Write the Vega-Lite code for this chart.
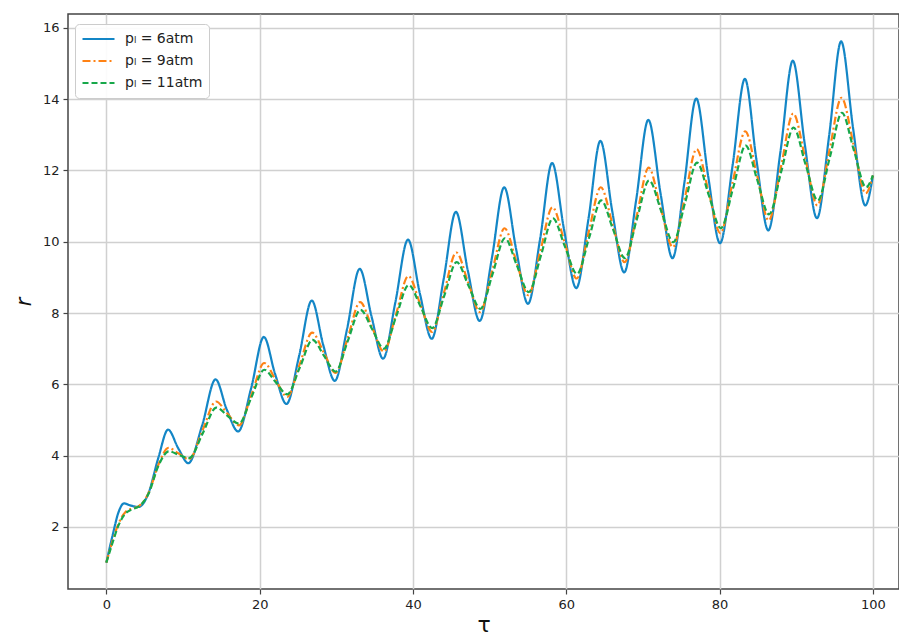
{
  "$schema": "https://vega.github.io/schema/vega-lite/v6.json",
  "autosize": {"type": "none"},
  "padding": {"left": 68, "top": 14, "right": 0, "bottom": 50},
  "width": 831,
  "height": 575,
  "background": "white",
  "config": {
    "font": "DejaVu Sans",
    "view": {"stroke": "#444444", "strokeWidth": 1.5},
    "axis": {
      "gridColor": "#d0d0d0",
      "gridWidth": 1.5,
      "domain": false,
      "tickColor": "#444444",
      "tickWidth": 1.2,
      "tickSize": 5,
      "labelFont": "DejaVu Sans",
      "labelFontSize": 13,
      "labelColor": "#222222",
      "labelPadding": 4,
      "titleFont": "DejaVu Sans",
      "titleFontWeight": "normal",
      "titleColor": "#111111"
    },
    "legend": {
      "orient": "none",
      "legendX": 7,
      "legendY": 10,
      "fillColor": "rgba(255,255,255,0.9)",
      "strokeColor": "#cccccc",
      "cornerRadius": 4,
      "padding": 6,
      "labelFont": "DejaVu Sans",
      "labelFontSize": 14,
      "labelColor": "#222222",
      "labelOffset": 9,
      "symbolType": "stroke",
      "symbolSize": 1024,
      "symbolStrokeWidth": 2.2,
      "clipHeight": 18,
      "rowPadding": 4
    }
  },
  "data": {
    "values": [
      {"s": "6atm", "t": 0, "r": 1.0},
      {"s": "6atm", "t": 0.8, "r": 1.75},
      {"s": "6atm", "t": 1.6, "r": 2.42},
      {"s": "6atm", "t": 2.3, "r": 2.66},
      {"s": "6atm", "t": 3.2, "r": 2.6},
      {"s": "6atm", "t": 4.2, "r": 2.56},
      {"s": "6atm", "t": 5.5, "r": 2.95},
      {"s": "6atm", "t": 6.8, "r": 3.95},
      {"s": "6atm", "t": 8.05, "r": 4.73},
      {"s": "6atm", "t": 9.4, "r": 4.2},
      {"s": "6atm", "t": 10.7, "r": 3.79},
      {"s": "6atm", "t": 12.5, "r": 4.85},
      {"s": "6atm", "t": 14.25, "r": 6.14},
      {"s": "6atm", "t": 15.7, "r": 5.3},
      {"s": "6atm", "t": 17.2, "r": 4.68},
      {"s": "6atm", "t": 18.9, "r": 5.9},
      {"s": "6atm", "t": 20.55, "r": 7.33},
      {"s": "6atm", "t": 22.0, "r": 6.3},
      {"s": "6atm", "t": 23.5, "r": 5.45},
      {"s": "6atm", "t": 25.15, "r": 6.8},
      {"s": "6atm", "t": 26.8, "r": 8.35},
      {"s": "6atm", "t": 28.3, "r": 7.1},
      {"s": "6atm", "t": 29.8, "r": 6.1},
      {"s": "6atm", "t": 31.4, "r": 7.55},
      {"s": "6atm", "t": 33.05, "r": 9.24},
      {"s": "6atm", "t": 34.6, "r": 7.9},
      {"s": "6atm", "t": 36.1, "r": 6.72},
      {"s": "6atm", "t": 37.7, "r": 8.3},
      {"s": "6atm", "t": 39.35, "r": 10.06},
      {"s": "6atm", "t": 40.9, "r": 8.55},
      {"s": "6atm", "t": 42.45, "r": 7.28},
      {"s": "6atm", "t": 44.0, "r": 8.95},
      {"s": "6atm", "t": 45.6, "r": 10.84},
      {"s": "6atm", "t": 47.15, "r": 9.2},
      {"s": "6atm", "t": 48.7, "r": 7.78},
      {"s": "6atm", "t": 50.3, "r": 9.55},
      {"s": "6atm", "t": 51.9, "r": 11.53},
      {"s": "6atm", "t": 53.45, "r": 9.8},
      {"s": "6atm", "t": 55.0, "r": 8.26},
      {"s": "6atm", "t": 56.6, "r": 10.1},
      {"s": "6atm", "t": 58.15, "r": 12.21},
      {"s": "6atm", "t": 59.7, "r": 10.35},
      {"s": "6atm", "t": 61.3, "r": 8.7},
      {"s": "6atm", "t": 62.9, "r": 10.65},
      {"s": "6atm", "t": 64.45, "r": 12.83},
      {"s": "6atm", "t": 66.0, "r": 10.85},
      {"s": "6atm", "t": 67.55, "r": 9.14},
      {"s": "6atm", "t": 69.1, "r": 11.15},
      {"s": "6atm", "t": 70.7, "r": 13.42},
      {"s": "6atm", "t": 72.3, "r": 11.35},
      {"s": "6atm", "t": 73.85, "r": 9.54},
      {"s": "6atm", "t": 75.4, "r": 11.65},
      {"s": "6atm", "t": 76.95, "r": 14.02},
      {"s": "6atm", "t": 78.5, "r": 11.85},
      {"s": "6atm", "t": 80.05, "r": 9.96},
      {"s": "6atm", "t": 81.7, "r": 12.15},
      {"s": "6atm", "t": 83.3, "r": 14.57},
      {"s": "6atm", "t": 84.8, "r": 12.3},
      {"s": "6atm", "t": 86.35, "r": 10.32},
      {"s": "6atm", "t": 87.95, "r": 12.55},
      {"s": "6atm", "t": 89.55, "r": 15.08},
      {"s": "6atm", "t": 91.1, "r": 12.75},
      {"s": "6atm", "t": 92.7, "r": 10.66},
      {"s": "6atm", "t": 94.3, "r": 13.0},
      {"s": "6atm", "t": 95.85, "r": 15.62},
      {"s": "6atm", "t": 97.4, "r": 13.2},
      {"s": "6atm", "t": 99.0, "r": 11.02},
      {"s": "6atm", "t": 100, "r": 11.86},

      {"s": "9atm", "t": 0, "r": 1.0},
      {"s": "9atm", "t": 0.8, "r": 1.6},
      {"s": "9atm", "t": 1.6, "r": 2.1},
      {"s": "9atm", "t": 2.5, "r": 2.42},
      {"s": "9atm", "t": 3.4, "r": 2.52},
      {"s": "9atm", "t": 4.2, "r": 2.58},
      {"s": "9atm", "t": 5.5, "r": 2.95},
      {"s": "9atm", "t": 6.8, "r": 3.75},
      {"s": "9atm", "t": 8.1, "r": 4.22},
      {"s": "9atm", "t": 9.45, "r": 4.06},
      {"s": "9atm", "t": 10.8, "r": 3.9},
      {"s": "9atm", "t": 12.55, "r": 4.71},
      {"s": "9atm", "t": 14.3, "r": 5.52},
      {"s": "9atm", "t": 15.8, "r": 5.18},
      {"s": "9atm", "t": 17.3, "r": 4.85},
      {"s": "9atm", "t": 18.95, "r": 5.72},
      {"s": "9atm", "t": 20.6, "r": 6.6},
      {"s": "9atm", "t": 22.1, "r": 6.12},
      {"s": "9atm", "t": 23.6, "r": 5.65},
      {"s": "9atm", "t": 25.2, "r": 6.55},
      {"s": "9atm", "t": 26.85, "r": 7.45},
      {"s": "9atm", "t": 28.4, "r": 6.88},
      {"s": "9atm", "t": 29.9, "r": 6.32},
      {"s": "9atm", "t": 31.5, "r": 7.31},
      {"s": "9atm", "t": 33.1, "r": 8.31},
      {"s": "9atm", "t": 34.65, "r": 7.61},
      {"s": "9atm", "t": 36.2, "r": 6.92},
      {"s": "9atm", "t": 37.8, "r": 7.98},
      {"s": "9atm", "t": 39.4, "r": 9.04},
      {"s": "9atm", "t": 40.95, "r": 8.25},
      {"s": "9atm", "t": 42.5, "r": 7.47},
      {"s": "9atm", "t": 44.05, "r": 8.58},
      {"s": "9atm", "t": 45.65, "r": 9.7},
      {"s": "9atm", "t": 47.2, "r": 8.86},
      {"s": "9atm", "t": 48.75, "r": 8.03},
      {"s": "9atm", "t": 50.35, "r": 9.2},
      {"s": "9atm", "t": 51.95, "r": 10.38},
      {"s": "9atm", "t": 53.5, "r": 9.44},
      {"s": "9atm", "t": 55.05, "r": 8.5},
      {"s": "9atm", "t": 56.6, "r": 9.73},
      {"s": "9atm", "t": 58.2, "r": 10.97},
      {"s": "9atm", "t": 59.8, "r": 9.97},
      {"s": "9atm", "t": 61.35, "r": 8.97},
      {"s": "9atm", "t": 62.9, "r": 10.25},
      {"s": "9atm", "t": 64.5, "r": 11.53},
      {"s": "9atm", "t": 66.05, "r": 10.48},
      {"s": "9atm", "t": 67.6, "r": 9.43},
      {"s": "9atm", "t": 69.2, "r": 10.75},
      {"s": "9atm", "t": 70.75, "r": 12.08},
      {"s": "9atm", "t": 72.3, "r": 10.96},
      {"s": "9atm", "t": 73.9, "r": 9.85},
      {"s": "9atm", "t": 75.45, "r": 11.22},
      {"s": "9atm", "t": 77.0, "r": 12.6},
      {"s": "9atm", "t": 78.55, "r": 11.42},
      {"s": "9atm", "t": 80.1, "r": 10.24},
      {"s": "9atm", "t": 81.7, "r": 11.67},
      {"s": "9atm", "t": 83.35, "r": 13.1},
      {"s": "9atm", "t": 84.9, "r": 11.85},
      {"s": "9atm", "t": 86.4, "r": 10.6},
      {"s": "9atm", "t": 88.0, "r": 12.1},
      {"s": "9atm", "t": 89.6, "r": 13.6},
      {"s": "9atm", "t": 91.2, "r": 12.31},
      {"s": "9atm", "t": 92.75, "r": 11.02},
      {"s": "9atm", "t": 94.3, "r": 12.53},
      {"s": "9atm", "t": 95.9, "r": 14.04},
      {"s": "9atm", "t": 97.5, "r": 12.7},
      {"s": "9atm", "t": 99.05, "r": 11.36},
      {"s": "9atm", "t": 100, "r": 11.86},

      {"s": "11atm", "t": 0, "r": 1.0},
      {"s": "11atm", "t": 0.8, "r": 1.55},
      {"s": "11atm", "t": 1.6, "r": 2.05},
      {"s": "11atm", "t": 2.5, "r": 2.38},
      {"s": "11atm", "t": 3.4, "r": 2.5},
      {"s": "11atm", "t": 4.2, "r": 2.57},
      {"s": "11atm", "t": 5.5, "r": 2.93},
      {"s": "11atm", "t": 6.8, "r": 3.72},
      {"s": "11atm", "t": 8.15, "r": 4.12},
      {"s": "11atm", "t": 9.5, "r": 4.02},
      {"s": "11atm", "t": 10.8, "r": 3.93},
      {"s": "11atm", "t": 12.6, "r": 4.64},
      {"s": "11atm", "t": 14.35, "r": 5.35},
      {"s": "11atm", "t": 15.8, "r": 5.12},
      {"s": "11atm", "t": 17.3, "r": 4.9},
      {"s": "11atm", "t": 18.95, "r": 5.65},
      {"s": "11atm", "t": 20.6, "r": 6.41},
      {"s": "11atm", "t": 22.1, "r": 6.06},
      {"s": "11atm", "t": 23.6, "r": 5.72},
      {"s": "11atm", "t": 25.25, "r": 6.48},
      {"s": "11atm", "t": 26.9, "r": 7.25},
      {"s": "11atm", "t": 28.4, "r": 6.8},
      {"s": "11atm", "t": 29.9, "r": 6.36},
      {"s": "11atm", "t": 31.5, "r": 7.22},
      {"s": "11atm", "t": 33.15, "r": 8.09},
      {"s": "11atm", "t": 34.7, "r": 7.54},
      {"s": "11atm", "t": 36.2, "r": 7.0},
      {"s": "11atm", "t": 37.8, "r": 7.9},
      {"s": "11atm", "t": 39.45, "r": 8.79},
      {"s": "11atm", "t": 41.0, "r": 8.18},
      {"s": "11atm", "t": 42.5, "r": 7.58},
      {"s": "11atm", "t": 44.1, "r": 8.5},
      {"s": "11atm", "t": 45.7, "r": 9.43},
      {"s": "11atm", "t": 47.25, "r": 8.77},
      {"s": "11atm", "t": 48.8, "r": 8.12},
      {"s": "11atm", "t": 50.4, "r": 9.11},
      {"s": "11atm", "t": 52.0, "r": 10.1},
      {"s": "11atm", "t": 53.55, "r": 9.34},
      {"s": "11atm", "t": 55.1, "r": 8.59},
      {"s": "11atm", "t": 56.7, "r": 9.62},
      {"s": "11atm", "t": 58.25, "r": 10.66},
      {"s": "11atm", "t": 59.8, "r": 9.88},
      {"s": "11atm", "t": 61.4, "r": 9.1},
      {"s": "11atm", "t": 63.0, "r": 10.13},
      {"s": "11atm", "t": 64.55, "r": 11.16},
      {"s": "11atm", "t": 66.1, "r": 10.35},
      {"s": "11atm", "t": 67.65, "r": 9.54},
      {"s": "11atm", "t": 69.2, "r": 10.63},
      {"s": "11atm", "t": 70.8, "r": 11.72},
      {"s": "11atm", "t": 72.4, "r": 10.85},
      {"s": "11atm", "t": 73.95, "r": 9.99},
      {"s": "11atm", "t": 75.5, "r": 11.1},
      {"s": "11atm", "t": 77.05, "r": 12.22},
      {"s": "11atm", "t": 78.6, "r": 11.3},
      {"s": "11atm", "t": 80.15, "r": 10.38},
      {"s": "11atm", "t": 81.8, "r": 11.54},
      {"s": "11atm", "t": 83.4, "r": 12.7},
      {"s": "11atm", "t": 84.9, "r": 11.74},
      {"s": "11atm", "t": 86.45, "r": 10.77},
      {"s": "11atm", "t": 88.05, "r": 11.98},
      {"s": "11atm", "t": 89.65, "r": 13.2},
      {"s": "11atm", "t": 91.2, "r": 12.18},
      {"s": "11atm", "t": 92.8, "r": 11.16},
      {"s": "11atm", "t": 94.4, "r": 12.39},
      {"s": "11atm", "t": 95.95, "r": 13.62},
      {"s": "11atm", "t": 97.5, "r": 12.58},
      {"s": "11atm", "t": 99.1, "r": 11.53},
      {"s": "11atm", "t": 100, "r": 11.86}
    ]
  },
  "mark": {"type": "line", "interpolate": "monotone", "strokeWidth": 2.2, "clip": true},
  "encoding": {
    "x": {
      "field": "t",
      "type": "quantitative",
      "scale": {"domain": [-5, 103.4], "nice": false, "zero": false},
      "axis": {"values": [0, 20, 40, 60, 80, 100], "title": "τ", "titleFontSize": 22, "titlePadding": 3}
    },
    "y": {
      "field": "r",
      "type": "quantitative",
      "scale": {"domain": [0.26, 16.39], "nice": false, "zero": false},
      "axis": {"values": [2, 4, 6, 8, 10, 12, 14, 16], "title": "r", "titleFontSize": 21, "titleFontStyle": "italic", "titlePadding": 8}
    },
    "color": {
      "field": "s",
      "type": "nominal",
      "scale": {"domain": ["6atm", "9atm", "11atm"], "range": ["#1386c6", "#ff8214", "#17a84a"]},
      "legend": {"title": null, "labelExpr": "'pₗ = ' + datum.label"}
    },
    "strokeDash": {
      "field": "s",
      "type": "nominal",
      "scale": {"domain": ["6atm", "9atm", "11atm"], "range": [[1, 0], [8, 3, 2, 3], [6, 3]]},
      "legend": {"title": null, "labelExpr": "'pₗ = ' + datum.label"}
    }
  }
}
